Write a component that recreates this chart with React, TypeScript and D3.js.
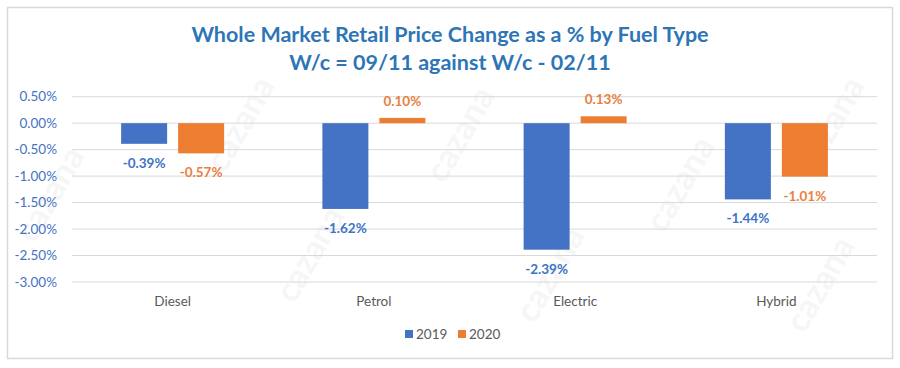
import React from "react";
import * as d3 from "d3";

const categories = ["Diesel", "Petrol", "Electric", "Hybrid"];
const series = ["2019", "2020"];
const values2019 = [-0.39, -1.62, -2.39, -1.44];
const values2020 = [-0.57, 0.1, 0.13, -1.01];
const yTicks = [0.5, 0, -0.5, -1, -1.5, -2, -2.5, -3];
const colors = ["#4472C4", "#ED7D31"];
const labelColors = ["#3E74C6", "#E8803F"];

const W = 900;
const H = 368;
const FONT = "Lato, 'Open Sans', sans-serif";
const pct = (v: number) => d3.format(".2f")(v).replace("\u2212", "-") + "%";

export default function App() {
  const x = d3.scaleBand<string>().domain(categories).range([72, 877]);
  const y = d3.scaleLinear().domain([-3, 0.5]).range([282, 96.7]);
  const barW = 46;
  const gap = 11;
  const data = [values2019, values2020];

  const watermarks = [
    [60, 200], [250, 130], [320, 260], [470, 140], [560, 280], [690, 190], [840, 130], [830, 290],
  ];

  return (
    <svg width={W} height={H} style={{ display: "block", position: "absolute", left: 0, top: 0 }} fontFamily={FONT}>
      <rect x={0} y={0} width={W} height={H} fill="#ffffff" />
      <rect x={7.5} y={7.5} width={885} height={351} fill="#ffffff" stroke="#d9d9d9" strokeWidth={1.5} />
      {watermarks.map(([wx, wy], i) => (
        <text key={i} x={wx} y={wy} transform={`rotate(-60 ${wx} ${wy})`} fontSize={34} fontWeight={700}
          fill="#000" opacity={0.03} textAnchor="middle">cazana</text>
      ))}
      <text x={450} y={42} textAnchor="middle" fontSize={21.5} fontWeight={700} fill="#2E75B6">
        Whole Market Retail Price Change as a % by Fuel Type
      </text>
      <text x={450} y={70} textAnchor="middle" fontSize={21.5} fontWeight={700} fill="#2E75B6">
        W/c = 09/11 against W/c - 02/11
      </text>
      {yTicks.map((t) => (
        <g key={t}>
          <line x1={72} x2={877} y1={y(t)} y2={y(t)} stroke="#d9d9d9" strokeWidth={1} />
          <text x={57} y={y(t) + 4.5} textAnchor="end" fontSize={13.5} fill="#4472C4">
            {pct(t)}
          </text>
        </g>
      ))}
      {categories.map((c, i) => {
        const cx = (x(c) as number) + x.bandwidth() / 2;
        return (
          <g key={c}>
            {data.map((vals, s) => {
              const v = vals[i];
              const bx = s === 0 ? cx - gap / 2 - barW : cx + gap / 2;
              const y0 = y(0);
              const y1 = y(v);
              const top = Math.min(y0, y1);
              const h = Math.abs(y1 - y0);
              const ly = v < 0 ? y1 + 24 : y1 - 12;
              return (
                <g key={s}>
                  <rect x={bx} y={top} width={barW} height={h} fill={colors[s]} />
                  <text x={bx + barW / 2} y={ly} textAnchor="middle" fontSize={13.5} fontWeight={700} fill={labelColors[s]}>
                    {pct(v)}
                  </text>
                </g>
              );
            })}
            <text x={cx} y={306} textAnchor="middle" fontSize={13.5} fill="#595959">{c}</text>
          </g>
        );
      })}
      {series.map((s, i) => {
        const lx = 405 + i * 53;
        return (
          <g key={s}>
            <rect x={lx} y={330} width={8} height={8} fill={colors[i]} />
            <text x={lx + 11} y={339} fontSize={13.5} fill="#595959">{s}</text>
          </g>
        );
      })}
    </svg>
  );
}
